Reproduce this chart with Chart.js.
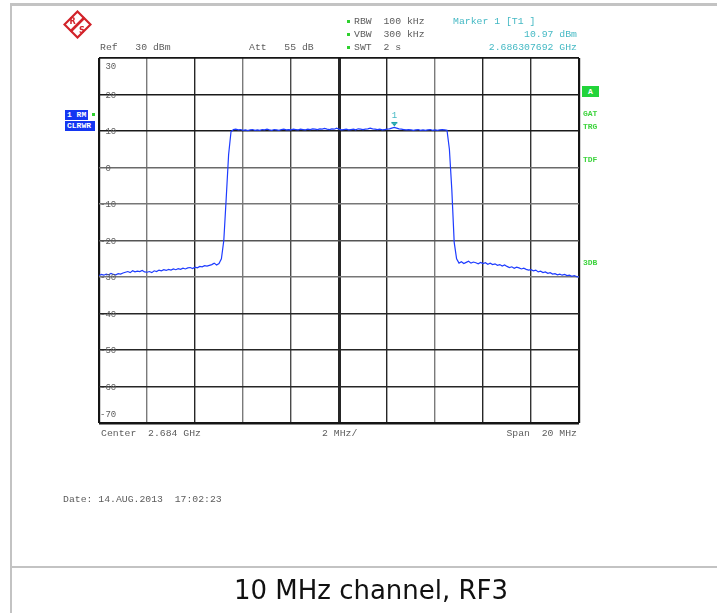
<!DOCTYPE html>
<html>
<head>
<meta charset="utf-8">
<title>10 MHz channel, RF3</title>
<script src="https://cdn.jsdelivr.net/npm/chart.js@4.4.1/dist/chart.umd.min.js"></script>
<style>
  html, body { margin: 0; padding: 0; background: #ffffff; }
  #page { position: relative; width: 717px; height: 613px; overflow: hidden; background: #ffffff; }
  #page canvas { position: absolute; left: 0; top: 0; }
  .rule { position: absolute; background: #c3c3c3; }
  .t { position: absolute; font-family: 'Liberation Mono', 'DejaVu Sans Mono', monospace; font-size: 9.8px;
       line-height: 12px; height: 12px; color: #5c5c5c; white-space: pre; }
  .r { text-align: right; }
  .teal { color: #45b9c4; }
  .dot { position: absolute; width: 3px; height: 3px; background: #2ed12e; }
  .box { position: absolute; background: #1436f2; color: #ffffff; font-family: 'Liberation Mono', monospace;
         font-size: 8px; font-weight: bold; line-height: 10px; white-space: pre; padding-left: 2px; }
  .side { position: absolute; font-family: 'Liberation Mono', monospace; font-size: 8px; font-weight: bold;
          line-height: 10px; color: #3fd43f; white-space: pre; }
  .abox { position: absolute; background: #22d43a; color: #ffffff; font-family: 'Liberation Mono', monospace;
          font-size: 8px; font-weight: bold; line-height: 11px; text-align: center; }
  #caption { position: absolute; left: 11px; width: 720px; top: 575px; text-align: center;
             font-family: 'DejaVu Sans', Verdana, sans-serif; font-size: 26px; line-height: 30px; color: #111; }
</style>
</head>
<body>
<div id="page">
  <canvas id="spectrum" width="717" height="613"></canvas>

  <div class="rule" style="left:10px; top:3px; width:707px; height:3px;"></div>
  <div class="rule" style="left:10px; top:3px; width:2px; height:610px;"></div>
  <div class="rule" style="left:10px; top:566px; width:707px; height:2px;"></div>

  <svg style="position:absolute; left:63px; top:10px;" width="29" height="29" viewBox="0 0 29 29">
    <polygon points="14.5,1.5 27.5,14.5 14.5,27.5 1.5,14.5" fill="#ffffff" stroke="#d2232a" stroke-width="2.2"/>
    <line x1="21.5" y1="7.5" x2="7.5" y2="21.5" stroke="#d2232a" stroke-width="2.6"/>
    <text x="6.5" y="13.5" font-family="DejaVu Sans, sans-serif" font-size="8" font-weight="bold" fill="#d2232a">R</text>
    <text x="16" y="23" font-family="DejaVu Sans, sans-serif" font-size="8" font-weight="bold" fill="#d2232a">S</text>
  </svg>

  <div class="t" style="left:100px; top:42px;">Ref   30 dBm</div>
  <div class="t" style="left:249px; top:42px;">Att   55 dB</div>

  <div class="dot" style="left:347px; top:20px;"></div>
  <div class="dot" style="left:347px; top:33px;"></div>
  <div class="dot" style="left:347px; top:46px;"></div>
  <div class="t" id="rbw" style="left:354px; top:16px;"></div>
  <div class="t" id="vbw" style="left:354px; top:29px;"></div>
  <div class="t" id="swt" style="left:354px; top:42px;"></div>

  <div class="t teal" id="mkName" style="left:453px; top:16px;"></div>
  <div class="t teal r" id="mkLevel" style="left:420px; width:157px; top:29px;"></div>
  <div class="t teal r" id="mkFreq" style="left:420px; width:157px; top:42px;"></div>

  <div class="box" style="left:65px; top:110px; width:21px; height:10px;">1 RM</div>
  <div class="dot" style="left:92px; top:113px;"></div>
  <div class="box" style="left:65px; top:121px; width:28px; height:10px;">CLRWR</div>

  <div class="abox" style="left:582px; top:86px; width:17px; height:11px;">A</div>
  <div class="side" style="left:583px; top:109px;">GAT</div>
  <div class="side" style="left:583px; top:122px;">TRG</div>
  <div class="side" style="left:583px; top:155px;">TDF</div>
  <div class="side" style="left:583px; top:258px;">3DB</div>

  <div class="t" id="center" style="left:101px; top:428px;"></div>
  <div class="t" id="perdiv" style="left:322px; top:428px;"></div>
  <div class="t r" id="span" style="left:420px; width:157px; top:428px;"></div>

  <div class="t" style="left:63px; top:494px;">Date: 14.AUG.2013  17:02:23</div>

  <div id="caption">10 MHz channel, RF3</div>
</div>

<script>
// Sweep settings (MHz)
const centerMHz = 2684;
const spanMHz = 20;
const sweepPoints = 201;

// Level axis (dBm)
const refLevel = 30;
const yTickValues = [30, 20, 10, 0, -10, -20, -30, -40, -50, -60, -70];
const xTickValues = [2674, 2676, 2678, 2680, 2682, 2684, 2686, 2688, 2690, 2692, 2694];

// Measured trace 1 (dBm), one value per sweep point
const traceLevels = [
  -29.6, -29.3, -29.5, -29.2, -29.4, -29.0, -29.3, -29.4, -29.1, -29.2,
  -28.9, -28.7, -28.5, -28.8, -28.3, -28.6, -28.4, -28.5, -28.2, -28.6,
  -28.7, -28.5, -28.8, -28.3, -28.5, -28.1, -28.3, -28.0, -28.2, -27.9,
  -28.1, -27.8, -28.0, -27.7, -27.9, -27.6, -27.8, -27.5, -27.4, -27.7,
  -27.3, -27.5, -27.1, -27.2, -26.9, -27.0, -26.8, -26.6, -26.2, -26.7,
  -26.3, -25.0, -20.0, -8.5, 3.5, 9.8, 10.4,
  10.5, 10.3, 10.4, 10.2, 10.3, 10.1, 10.3, 10.4, 10.2, 10.3,
  10.2, 10.4, 10.3, 10.5, 10.3, 10.2, 10.4, 10.3, 10.2, 10.4,
  10.5, 10.3, 10.4, 10.3, 10.5, 10.4, 10.3, 10.5, 10.4, 10.3,
  10.5, 10.4, 10.6, 10.5, 10.4, 10.6, 10.5, 10.7, 10.5, 10.4,
  10.6, 10.5, 10.8, 10.5, 10.3, 10.4, 10.5, 10.3, 10.4, 10.5,
  10.3, 10.6, 10.5, 10.4, 10.5, 10.6, 10.8, 10.6, 10.5, 10.4,
  10.5, 10.3, 10.4, 10.5, 10.6, 10.8, 10.97, 10.8, 10.6, 10.5,
  10.4, 10.3, 10.4, 10.3, 10.2, 10.3, 10.4, 10.2, 10.3, 10.2,
  10.3, 10.4, 10.2, 10.3, 10.2, 10.3, 10.4, 10.3, 10.2, 5.0,
  -6.0, -20.5, -25.0, -26.2,
  -25.8, -26.3, -26.0, -25.7, -26.2, -25.9, -26.1, -26.4, -26.0, -26.3,
  -26.1, -26.5, -26.2, -26.6, -26.4, -26.8, -26.6, -27.0, -26.7, -27.1,
  -27.4, -27.2, -27.6, -27.3, -27.5, -27.8, -27.6, -27.9, -28.1, -28.0,
  -28.3, -28.1, -28.6, -28.4, -28.8, -28.6, -29.0, -28.8, -29.2, -29.1,
  -29.4, -29.2, -29.5, -29.3, -29.6, -29.5, -29.8, -29.6, -29.9, -30.0
];

// Marker 1 on trace 1
const markerFreqGHz = 2.686307692;
const markerLevel = 10.97;

// Instrument settings shown in the header
const rbwText = 'RBW  100 kHz';
const vbwText = 'VBW  300 kHz';
const swtText = 'SWT  2 s';

document.getElementById('rbw').textContent = rbwText;
document.getElementById('vbw').textContent = vbwText;
document.getElementById('swt').textContent = swtText;
document.getElementById('mkName').textContent = 'Marker 1 [T1 ]';
document.getElementById('mkLevel').textContent = markerLevel.toFixed(2) + ' dBm';
document.getElementById('mkFreq').textContent = markerFreqGHz.toFixed(9) + ' GHz';
document.getElementById('center').textContent = 'Center  ' + (centerMHz / 1000).toFixed(3) + ' GHz';
document.getElementById('perdiv').textContent = (spanMHz / 10) + ' MHz/';
document.getElementById('span').textContent = 'Span  ' + spanMHz + ' MHz';

const startMHz = centerMHz - spanMHz / 2;
const stopMHz = centerMHz + spanMHz / 2;
const binMHz = spanMHz / (sweepPoints - 1);
const tracePoints = traceLevels.map((v, i) => ({ x: startMHz + i * binMHz, y: v }));

// Grid shading per division line
const xGridColor = { 2676: '#7a7a7a', 2678: '#262626', 2680: '#7a7a7a', 2682: '#4a4a4a', 2684: '#262626',
                     2686: '#262626', 2688: '#7a7a7a', 2690: '#262626', 2692: '#333333' };
const yGridColor = { 20: '#1a1a1a', 10: '#1a1a1a', 0: '#6a6a6a', '-10': '#777777', '-20': '#555555',
                     '-30': '#777777', '-40': '#262626', '-50': '#262626', '-60': '#262626' };

const levelLabels = {
  id: 'levelLabels',
  afterDraw(chart) {
    const { ctx, chartArea, scales } = chart;
    ctx.save();
    ctx.font = '9px "Liberation Mono", monospace';
    ctx.fillStyle = '#5c5c5c';
    ctx.textBaseline = 'middle';
    ctx.textAlign = 'left';
    yTickValues.forEach(v => {
      let py = scales.y.getPixelForValue(v);
      if (v === yTickValues[0]) py += 9;
      else if (v === yTickValues[yTickValues.length - 1]) py -= 8;
      else py += 1;
      const s = (v < 0 ? '-' : ' ') + Math.abs(v);
      ctx.fillText(s, chartArea.left + 1, py);
    });
    ctx.restore();
  }
};

const markerPlugin = {
  id: 'markerPlugin',
  afterDatasetsDraw(chart) {
    const { ctx, scales } = chart;
    const px = scales.x.getPixelForValue(markerFreqGHz * 1000);
    const py = scales.y.getPixelForValue(markerLevel);
    ctx.save();
    ctx.fillStyle = '#1fa3ab';
    ctx.fillRect(px - 3, py - 5.5, 6, 1.5);
    ctx.beginPath();
    ctx.moveTo(px - 2.5, py - 4.2);
    ctx.lineTo(px + 2.5, py - 4.2);
    ctx.lineTo(px, py - 1);
    ctx.closePath();
    ctx.fill();
    ctx.fillStyle = '#45b9c4';
    ctx.font = '9px "Liberation Mono", monospace';
    ctx.textAlign = 'center';
    ctx.textBaseline = 'middle';
    ctx.fillText('1', px, py - 11.5);
    ctx.restore();
  }
};

new Chart(document.getElementById('spectrum'), {
  type: 'line',
  data: {
    datasets: [{
      label: 'Trace 1',
      data: tracePoints,
      borderColor: '#1e3cff',
      borderWidth: 1.2,
      pointRadius: 0,
      tension: 0,
      fill: false
    }]
  },
  options: {
    responsive: false,
    animation: false,
    events: [],
    layout: { padding: { left: 99, top: 58, right: 138, bottom: 190 } },
    plugins: { legend: { display: false }, tooltip: { enabled: false } },
    scales: {
      x: {
        type: 'linear',
        min: startMHz,
        max: stopMHz,
        afterBuildTicks: axis => { axis.ticks = xTickValues.map(v => ({ value: v })); },
        ticks: { display: false },
        border: { display: false },
        grid: {
          drawTicks: false,
          color: c => {
            const v = c.tick.value;
            if (v === startMHz || v === stopMHz) return '#151515';
            return xGridColor[v] || '#444444';
          },
          lineWidth: c => {
            const v = c.tick.value;
            if (v === startMHz || v === stopMHz) return 2.2;
            if (v === centerMHz) return 3;
            return 1.4;
          }
        }
      },
      y: {
        type: 'linear',
        min: yTickValues[yTickValues.length - 1],
        max: refLevel,
        afterBuildTicks: axis => { axis.ticks = yTickValues.map(v => ({ value: v })); },
        ticks: { display: false },
        border: { display: false },
        grid: {
          drawTicks: false,
          color: c => {
            const v = c.tick.value;
            if (v === yTickValues[0] || v === yTickValues[yTickValues.length - 1]) return '#151515';
            return yGridColor[v] || '#444444';
          },
          lineWidth: c => {
            const v = c.tick.value;
            if (v === yTickValues[yTickValues.length - 1]) return 2.6;
            if (v === yTickValues[0]) return 1.8;
            return 1.4;
          }
        }
      }
    }
  },
  plugins: [levelLabels, markerPlugin]
});
</script>
</body>
</html>
